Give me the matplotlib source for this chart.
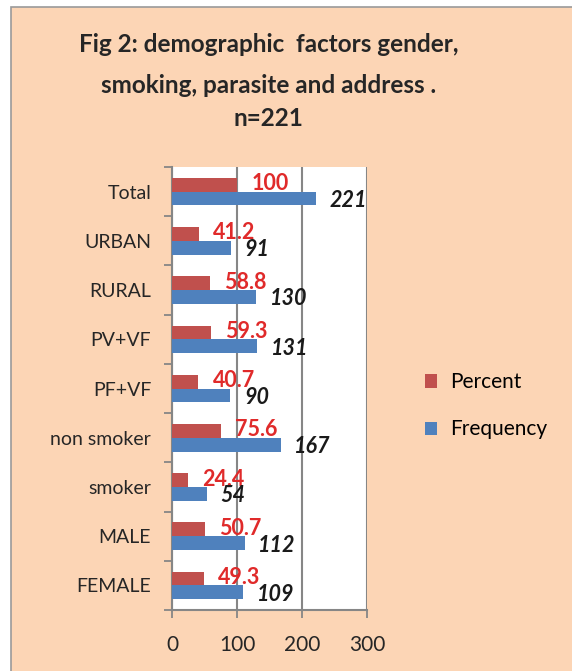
import numpy as np
import matplotlib.pyplot as plt
from matplotlib.patches import Rectangle

# data, bottom to top as drawn
categories = ['FEMALE', 'MALE', 'smoker', 'non smoker', 'PF+VF', 'PV+VF', 'RURAL', 'URBAN', 'Total']
percent = [49.3, 50.7, 24.4, 75.6, 40.7, 59.3, 58.8, 41.2, 100]
frequency = [109, 112, 54, 167, 90, 131, 130, 91, 221]
percent_labels = ['49.3', '50.7', '24.4', '75.6', '40.7', '59.3', '58.8', '41.2', '100']
freq_labels = ['109', '112', '54', '167', '90', '131', '130', '91', '221']

plt.rcParams['font.family'] = ['Lato', 'DejaVu Sans']

red = '#C0504D'
blue = '#4F81BD'
peach = '#FCD5B5'
grey = '#868686'

fig = plt.figure(figsize=(5.72, 6.71), dpi=100, facecolor='white')
fig.patches.append(Rectangle((0.019, -0.01), 1.0, 0.9996, transform=fig.transFigure,
                             facecolor=peach, edgecolor='#9a9a9a', linewidth=1.2, zorder=-1))

title_lines = ['Fig 2: demographic  factors gender,', 'smoking, parasite and address .', 'n=221']
for ty, line in zip([0.933, 0.873, 0.824], title_lines):
    fig.text(0.469, ty, line, ha='center', va='center', fontsize=17.5,
             fontweight='bold', color='#262626')

ax = fig.add_axes([0.3007, 0.0909, 0.3409, 0.6602])
ax.set_facecolor('white')

y = np.arange(len(categories))
h = 0.28
ax.barh(y + h / 2, percent, height=h, color=red, label='Percent', zorder=3)
ax.barh(y - h / 2, frequency, height=h, color=blue, label='Frequency', zorder=3)

for yi, v, s in zip(y, percent, percent_labels):
    ax.text(v + 22, yi + h / 2 + 0.02, s, ha='left', va='center', fontsize=15.5,
            fontweight='bold', color='#E02A2A', zorder=4)
for yi, v, s in zip(y, frequency, freq_labels):
    ax.text(v + 21, yi - h / 2 - 0.04, s, ha='left', va='center', fontsize=15.5,
            fontweight='bold', fontstyle='italic', color='#1a1a1a', zorder=4)

ax.set_xlim(0, 300)
ax.set_ylim(-0.5, len(categories) - 0.5)
ax.set_xticks([0, 100, 200, 300])
ax.xaxis.grid(True, color=grey, linewidth=1.5, zorder=1)
ax.set_axisbelow(True)

ax.set_yticks(y)
ax.set_yticklabels(categories)
ax.set_yticks(np.arange(-0.5, len(categories), 1.0), minor=True)
ax.tick_params(axis='y', which='major', length=0, pad=15, labelsize=14, labelcolor='#262626')
ax.tick_params(axis='y', which='minor', length=6, color=grey, width=1.3)
ax.tick_params(axis='x', length=6, color=grey, width=1.3, labelsize=15, pad=12,
               labelcolor='#262626')

for side in ['top', 'right']:
    ax.spines[side].set_visible(False)
for side in ['left', 'bottom']:
    ax.spines[side].set_color(grey)
    ax.spines[side].set_linewidth(1.5)

handles, labels = ax.get_legend_handles_labels()
fig.legend(handles, labels, loc='center left', bbox_to_anchor=(0.71, 0.395),
           frameon=False, fontsize=15, handlelength=0.6, handleheight=0.6,
           labelspacing=1.3, handletextpad=0.6)

plt.savefig('out.png', dpi=100, facecolor=fig.get_facecolor())
